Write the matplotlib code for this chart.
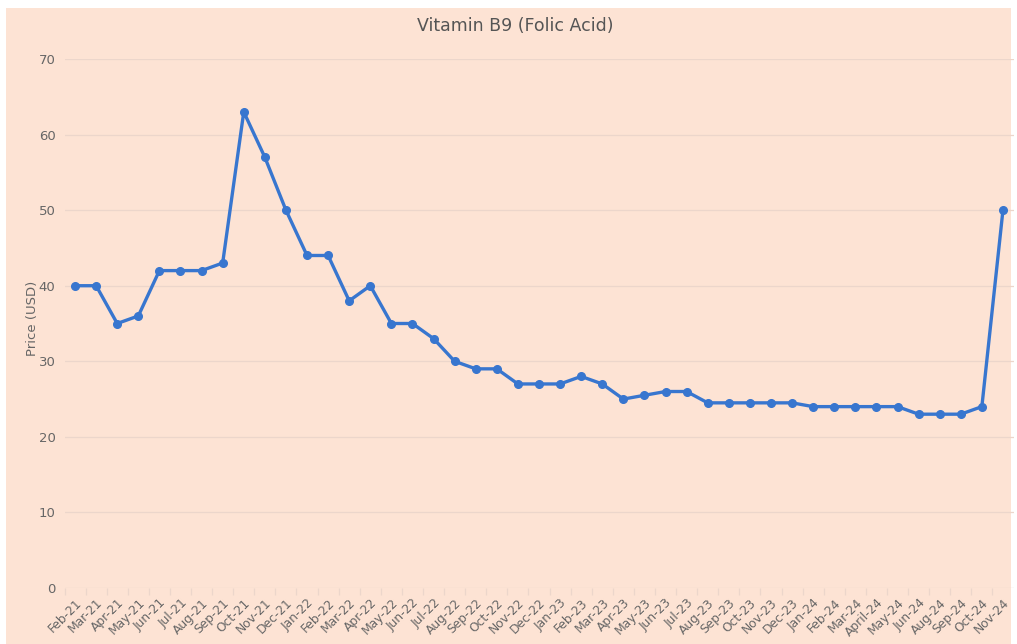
import numpy as np
import matplotlib.pyplot as plt
from matplotlib.patches import Rectangle

# Datos del grafico
months = ['Feb-21', 'Mar-21', 'Apr-21', 'May-21', 'Jun-21', 'Jul-21', 'Aug-21', 'Sep-21',
          'Oct-21', 'Nov-21', 'Dec-21', 'Jan-22', 'Feb-22', 'Mar-22', 'Apr-22', 'May-22',
          'Jun-22', 'Jul-22', 'Aug-22', 'Sep-22', 'Oct-22', 'Nov-22', 'Dec-22', 'Jan-23',
          'Feb-23', 'Mar-23', 'Apr-23', 'May-23', 'Jun-23', 'Jul-23', 'Aug-23', 'Sep-23',
          'Oct-23', 'Nov-23', 'Dec-23', 'Jan-24', 'Feb-24', 'Mar-24', 'April-24', 'May-24',
          'Jun-24', 'Aug-24', 'Sep-24', 'Oct-24', 'Nov-24']
prices = [40, 40, 35, 36, 42, 42, 42, 43,
          63, 57, 50, 44, 44, 38, 40, 35,
          35, 33, 30, 29, 29, 27, 27, 27,
          28, 27, 25, 25.5, 26, 26, 24.5, 24.5,
          24.5, 24.5, 24.5, 24, 24, 24, 24, 24,
          23, 23, 23, 24, 50]
y_ticks = [0, 10, 20, 30, 40, 50, 60, 70]

bg = '#fde3d4'
W, H = 1017, 644

fig = plt.figure(figsize=(W / 100, H / 100), dpi=100)
fig.patch.set_facecolor('white')
fig.patches.append(Rectangle((6 / W, 0), (W - 12) / W, (H - 8) / H,
                             transform=fig.transFigure, facecolor=bg,
                             edgecolor='none', zorder=-10))

ax = fig.add_axes([64.5 / W, (H - 588) / H, 949 / W, (588 - 59) / H])
ax.set_facecolor('none')

x = np.arange(len(months))
ax.plot(x, prices, color='#3876cf', linewidth=2.4, marker='o', markersize=5.5,
        zorder=3)

ax.set_xlim(-0.5, len(months) - 0.5)
ax.set_ylim(0, 70)
ax.set_yticks(y_ticks)
ax.set_yticklabels([str(v) for v in y_ticks])
ax.set_xticks(x)
ax.set_xticklabels(months, rotation=45, ha='right', rotation_mode='anchor')
ax.set_xticks(np.arange(-0.5, len(months) - 1, 1), minor=True)

ax.grid(axis='y', color='#ecd6cb', linewidth=0.9)
ax.set_axisbelow(True)
for s in ax.spines.values():
    s.set_visible(False)

ax.tick_params(axis='y', length=0, pad=6.5, labelsize=9.5, labelcolor='#666666')
ax.tick_params(axis='x', which='major', length=0, pad=6, labelsize=8.8,
               labelcolor='#666666')
ax.tick_params(axis='x', which='minor', length=5, color='#ecd6cb', width=0.9)

ax.set_ylabel('Price (USD)', fontsize=9.5, color='#666666')
ax.yaxis.set_label_coords(-0.027, 0.51)
fig.text(515 / W, 1 - 26 / H, 'Vitamin B9 (Folic Acid)', ha='center',
         va='center', fontsize=12.5, color='#555555')

fig.savefig('out.png', dpi=100)
